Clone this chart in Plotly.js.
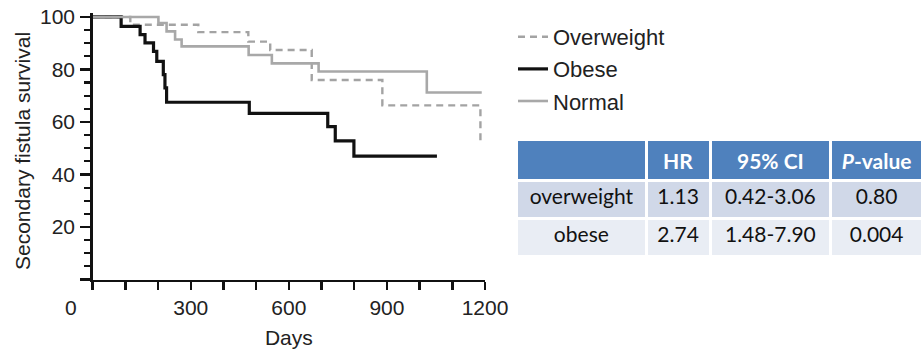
<!DOCTYPE html>
<html>
<head>
<meta charset="utf-8">
<script src="https://cdn.plot.ly/plotly-3.0.1.min.js"></script>
<style>
  html, body { margin: 0; padding: 0; background: #fff; }
  #chart { width: 923px; height: 351px; }
</style>
</head>
<body>
<div id="chart"></div>
<script>
// Kaplan-Meier step curves: days and secondary fistula survival (%)
const overweightDays = [0, 115, 323, 476, 543, 670, 886, 1186];
const overweightSurv = [100, 97.0, 94.2, 90.6, 87.4, 76.0, 66.3, 52.2];

const obeseDays = [0, 87, 145, 160, 186, 196, 216, 221, 226, 479, 719, 742, 799, 1053];
const obeseSurv = [100, 96.4, 93.3, 90.1, 86.9, 83.1, 78.0, 73.0, 67.5, 63.3, 58.2, 52.8, 47.0, 47.0];

const normalDays = [0, 201, 226, 252, 272, 477, 548, 691, 1022, 1190];
const normalSurv = [100, 97.7, 94.5, 91.4, 88.8, 85.5, 82.3, 79.2, 71.2, 71.2];

// Axis ticks
const xTickVals = [0, 100, 200, 300, 400, 500, 600, 700, 800, 900, 1000, 1100, 1200];
const xTickText = ['', '', '', '300', '', '', '600', '', '', '900', '', '', '1200'];
const yTickVals = [0, 20, 40, 60, 80, 100];
const yTickText = ['', '20', '40', '60', '80', '100'];

// Hazard ratio table
const tableHeader = ['', 'HR', '95% CI', 'P-value'];
const groupNames = ['overweight', 'obese'];
const hazardRatios = ['1.13', '2.74'];
const confIntervals = ['0.42-3.06', '1.48-7.90'];
const pValues = ['0.80', '0.004'];

const W = 923, H = 351;
const axisFont = { family: 'Liberation Sans, Arial, sans-serif', size: 21, color: '#222' };
const legendFont = { family: 'Liberation Sans, Arial, sans-serif', size: 22, color: '#222' };
const tableFont = 'Lato, Open Sans, sans-serif';

function stepTrace(name, x, y, line) {
  return {
    type: 'scatter', mode: 'lines', name: name, x: x, y: y,
    line: Object.assign({ shape: 'hv' }, line),
    legendgroup: name, hoverinfo: 'skip'
  };
}

function headerCell(h) {
  if (h === 'P-value') return '<b><i>P</i>-value</b>';
  return h ? '<b>' + h + '</b>' : '';
}

const traces = [
  stepTrace('Overweight', overweightDays, overweightSurv, { color: '#a3a3a3', width: 2.4, dash: '7px,5px' }),
  stepTrace('Obese', obeseDays, obeseSurv, { color: '#111111', width: 3.2 }),
  stepTrace('Normal', normalDays, normalSurv, { color: '#a8a8a8', width: 2.6 }),
  {
    type: 'table',
    domain: { x: [516.5 / W, 1], y: [0, 1 - 139.5 / H] },
    columnwidth: [130, 64, 121, 92],
    header: {
      values: tableHeader.map(headerCell),
      align: 'center',
      height: 38,
      fill: { color: '#4f81bd' },
      line: { color: '#ffffff', width: 3 },
      font: { family: tableFont, size: 21, color: '#ffffff' }
    },
    cells: {
      values: [groupNames, hazardRatios, confIntervals, pValues],
      align: 'center',
      height: 38,
      fill: { color: [0, 1, 2, 3].map(() => ['#d0d8e8', '#e9edf4']) },
      line: { color: '#ffffff', width: 3 },
      font: { family: tableFont, size: 21, color: '#111111' }
    }
  }
];

const layout = {
  width: W, height: H,
  margin: { l: 0, r: 0, t: 0, b: 0 },
  paper_bgcolor: '#ffffff', plot_bgcolor: '#ffffff',
  showlegend: true,
  legend: {
    x: 513 / W, y: 1 - 16 / H, xanchor: 'left', yanchor: 'top',
    font: legendFont, tracegroupgap: 0.5, bgcolor: 'rgba(0,0,0,0)'
  },
  xaxis: {
    domain: [92.7 / W, 485 / W], range: [0, 1200],
    showline: true, linecolor: '#111', linewidth: 2.5,
    showgrid: false, zeroline: false,
    tickmode: 'array', tickvals: xTickVals, ticktext: xTickText,
    ticks: 'outside', ticklen: 8, tickwidth: 2.5, tickcolor: '#111',
    tickfont: axisFont,
    title: { text: 'Days', font: axisFont, standoff: 12 },
    fixedrange: true
  },
  yaxis: {
    domain: [1 - 279.5 / H, 1 - 13 / H], range: [0, 101.5],
    showline: true, linecolor: '#111', linewidth: 2.5,
    showgrid: false, zeroline: false,
    tickmode: 'array', tickvals: yTickVals, ticktext: yTickText,
    ticks: 'outside', ticklen: 10, tickwidth: 2.5, tickcolor: '#111',
    ticklabelstandoff: 1,
    minor: { dtick: 5, tick0: 0, ticks: 'outside', ticklen: 6, tickwidth: 2.2, tickcolor: '#111' },
    tickfont: axisFont,
    fixedrange: true
  },
  annotations: [
    {
      // shared origin label
      text: '0', x: 0, xref: 'x', y: 1 - 307 / H, yref: 'paper',
      xanchor: 'center', yanchor: 'middle', xshift: -22,
      showarrow: false, font: axisFont
    },
    {
      // y axis title
      text: 'Secondary fistula survival', textangle: -90,
      x: 22 / W, xref: 'paper', y: 1 - 151 / H, yref: 'paper',
      xanchor: 'center', yanchor: 'middle',
      showarrow: false, font: axisFont
    }
  ]
};

Plotly.newPlot('chart', traces, layout, { displayModeBar: false, staticPlot: true });
</script>
</body>
</html>
